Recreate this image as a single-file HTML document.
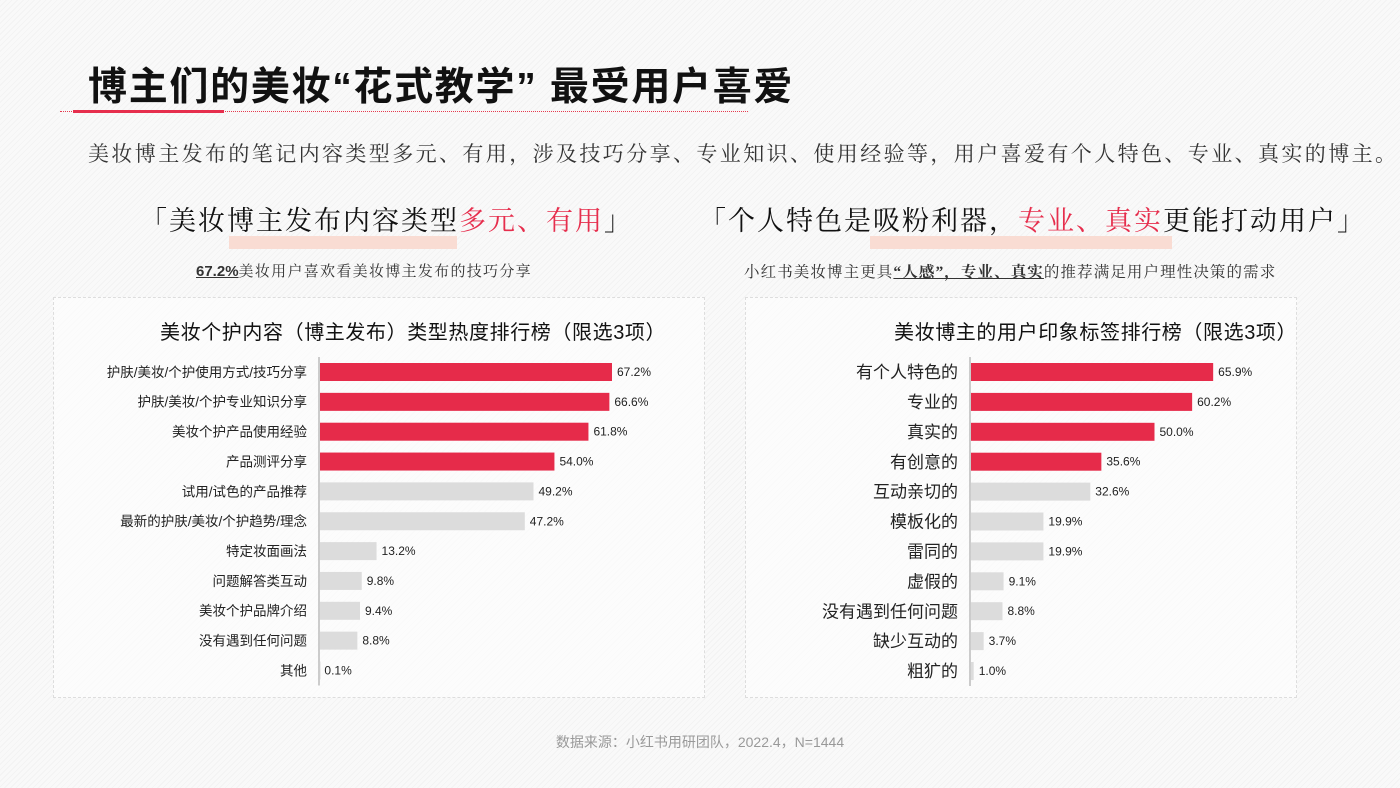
<!DOCTYPE html>
<html><head><meta charset="utf-8">
<style>
*{margin:0;padding:0;box-sizing:border-box}
body{width:1400px;height:788px;overflow:hidden;position:relative;font-family:"Liberation Sans","Noto Sans CJK SC",sans-serif;color:#222;
background:#f8f8f8 repeating-linear-gradient(135deg,#f3f3f3 0 1px,#f9f9f9 1px 4px)}
.abs{position:absolute;white-space:nowrap}
.serif{font-family:"Liberation Serif","Noto Serif CJK SC",serif}
.panel{position:absolute;border:1px dashed #ddd;background:rgba(255,255,255,0.55)}
.hl{position:absolute;background:#f9dcd3;height:13px}
</style></head><body>
<div class="abs" style="left:88px;top:56px;font-size:39px;font-weight:bold;color:#111;letter-spacing:1.7px">博主们的美妆“花式教学” 最受用户喜爱</div>
<div class="abs" style="left:60px;top:111px;width:688px;border-top:1px dotted #e63b50"></div>
<div class="abs" style="left:73px;top:110px;width:151px;height:3px;background:#e62e4d"></div>
<div class="abs serif" style="left:88px;top:138px;font-size:21px;letter-spacing:2.4px;color:#333">美妆博主发布的笔记内容类型多元、有用，涉及技巧分享、专业知识、使用经验等，用户喜爱有个人特色、专业、真实的博主。</div>

<div class="hl" style="left:229px;top:236px;width:228px"></div>
<div class="abs serif" style="left:140px;top:199px;font-size:27px;letter-spacing:2px;color:#111">「美妆博主发布内容类型<span style="color:#e62e4d">多元、有用</span>」</div>
<div class="abs" style="left:196px;top:260px;font-size:15px;color:#333;letter-spacing:1.3px"><b style="text-decoration:underline;letter-spacing:0">67.2%</b><span class="serif">美妆用户喜欢看美妆博主发布的技巧分享</span></div>

<div class="hl" style="left:870px;top:236px;width:302px"></div>
<div class="abs serif" style="left:699px;top:199px;font-size:27px;letter-spacing:2px;color:#111">「个人特色是吸粉利器，<span style="color:#e62e4d">专业、真实</span>更能打动用户」</div>
<div class="abs serif" style="left:744px;top:260px;font-size:15.5px;letter-spacing:1.1px;color:#333">小红书美妆博主更具<b style="text-decoration:underline">“人感”，专业、真实</b>的推荐满足用户理性决策的需求</div>

<div class="panel" style="left:53px;top:297px;width:652px;height:401px"></div>
<div class="panel" style="left:745px;top:297px;width:552px;height:401px"></div>
<div class="abs" style="left:160px;top:316px;font-size:20px;letter-spacing:0.6px;color:#111">美妆个护内容（博主发布）类型热度排行榜（限选3项）</div>
<div class="abs" style="left:894px;top:316px;font-size:20px;letter-spacing:0.6px;color:#111">美妆博主的用户印象标签排行榜（限选3项）</div>

<svg id="chart" class="abs" style="left:0;top:0" width="1400" height="788"></svg>

<div class="abs" style="left:0;width:1400px;text-align:center;top:732px;font-size:14px;color:#999">数据来源：小红书用研团队，2022.4，N=1444</div>

<script>
const leftCategories=["护肤/美妆/个护使用方式/技巧分享","护肤/美妆/个护专业知识分享","美妆个护产品使用经验","产品测评分享","试用/试色的产品推荐","最新的护肤/美妆/个护趋势/理念","特定妆面画法","问题解答类互动","美妆个护品牌介绍","没有遇到任何问题","其他"];
const leftValues=[67.2,66.6,61.8,54.0,49.2,47.2,13.2,9.8,9.4,8.8,0.1];
const leftHighlight=4;
const rightCategories=["有个人特色的","专业的","真实的","有创意的","互动亲切的","模板化的","雷同的","虚假的","没有遇到任何问题","缺少互动的","粗犷的"];
const rightValues=[65.9,60.2,50.0,35.6,32.6,19.9,19.9,9.1,8.8,3.7,1.0];
const rightHighlight=4;

const svg=document.getElementById('chart');
const NS='http://www.w3.org/2000/svg';
function draw(cfg){
  const {cats,vals,hi,x0,scale,y0,step,labelSize,prefix}=cfg;
  const xs=v=>x0+v*scale;
  const ys=i=>y0+i*step;
  const ax=document.createElementNS(NS,'line');
  
  
  ax.setAttribute('x1',x0);ax.setAttribute('x2',x0);ax.setAttribute('y1',ys(0)-15);ax.setAttribute('y2',ys(cats.length-1)+15);
  ax.setAttribute('stroke','#bbb');ax.setAttribute('stroke-width','1.5');svg.appendChild(ax);
  cats.forEach((c,i)=>{
    const r=document.createElementNS(NS,'rect');
    
    
    r.setAttribute('x',x0+1);r.setAttribute('y',ys(i)-9);r.setAttribute('height',18);
    r.setAttribute('width',Math.max(0.5,xs(vals[i])-x0-1));
    r.setAttribute('fill',i<hi?'#e62b4a':'#dcdcdc');svg.appendChild(r);
    const t=document.createElementNS(NS,'text');
    
    
    t.setAttribute('x',x0-12);t.setAttribute('y',ys(i)+labelSize*0.36);
    t.setAttribute('text-anchor','end');t.setAttribute('font-size',labelSize);t.setAttribute('fill','#222');
    t.textContent=c;svg.appendChild(t);
    const v=document.createElementNS(NS,'text');
    
    
    v.setAttribute('x',xs(vals[i])+5);v.setAttribute('y',ys(i)+4);
    v.setAttribute('font-size',12);v.setAttribute('fill','#222');
    v.textContent=vals[i].toFixed(1)+'%';svg.appendChild(v);
  });
}
draw({cats:leftCategories,vals:leftValues,hi:leftHighlight,x0:319,scale:4.36,y0:372,step:29.85,labelSize:13.5,prefix:'left'});
draw({cats:rightCategories,vals:rightValues,hi:rightHighlight,x0:970,scale:3.69,y0:372,step:29.9,labelSize:17,prefix:'right'});
</script>
</body></html>
